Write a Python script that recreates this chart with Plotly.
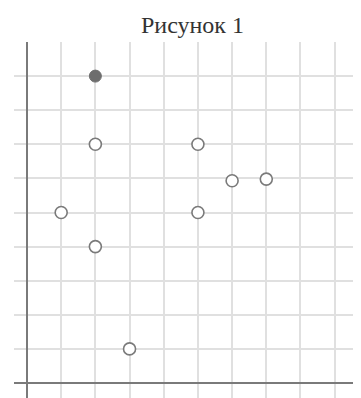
import plotly.graph_objects as go

# Data
open_x = [2, 5, 6, 7, 1, 5, 2, 3]
open_y = [7, 7, 5.93, 5.98, 5, 5, 4, 1]
filled_x = [2]
filled_y = [9]
title_text = "Рисунок 1"

fig = go.Figure()
fig.add_trace(go.Scatter(
    x=open_x, y=open_y, mode="markers",
    marker=dict(symbol="circle", size=12, color="white",
                line=dict(color="#7a7a7a", width=1.6)),
    showlegend=False, hoverinfo="skip"))
fig.add_trace(go.Scatter(
    x=filled_x, y=filled_y, mode="markers",
    marker=dict(symbol="circle", size=12, color="#6e6e6e",
                line=dict(color="#6e6e6e", width=1)),
    showlegend=False, hoverinfo="skip"))

# page body has an 8px margin, so the figure starts at (8, 8)
fig.update_layout(
    width=353, height=390,
    margin=dict(l=6, r=0, t=34, b=0),
    paper_bgcolor="white", plot_bgcolor="white",
    xaxis=dict(range=[-0.38, 9.77], dtick=1, tick0=0, showticklabels=False,
               showgrid=True, gridcolor="#e0e0e0", gridwidth=1.5,
               zeroline=True, zerolinecolor="#7a7a7a", zerolinewidth=2,
               showline=False, ticks="", fixedrange=True),
    yaxis=dict(range=[-0.44, 10], dtick=1, tick0=0, showticklabels=False,
               showgrid=True, gridcolor="#e0e0e0", gridwidth=1.5,
               zeroline=True, zerolinecolor="#7a7a7a", zerolinewidth=2,
               showline=False, ticks="", fixedrange=True),
    annotations=[dict(text=title_text, xref="paper", yref="paper",
                      x=(193 - 14) / 347, y=1, xanchor="center", yanchor="bottom",
                      yshift=2, showarrow=False,
                      font=dict(family="Liberation Serif", size=24, color="#333333"))],
)

fig.write_html("out.html")
